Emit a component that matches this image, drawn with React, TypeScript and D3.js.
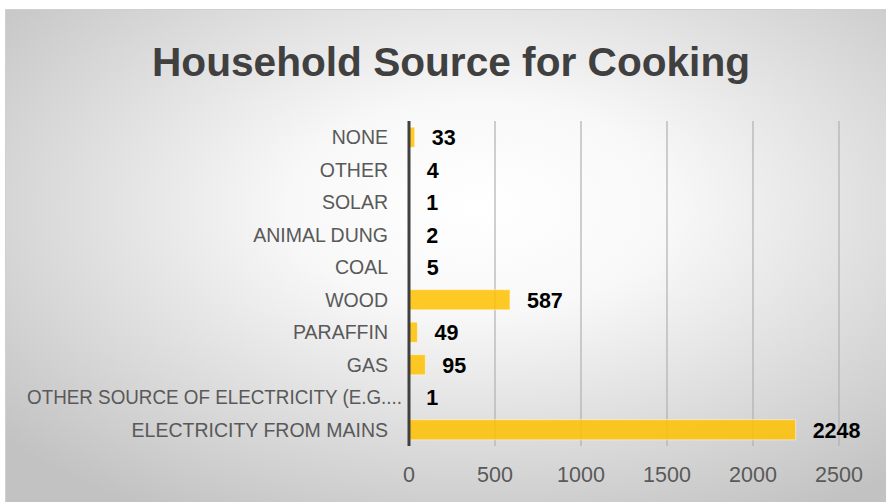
import React from "react";
import * as d3 from "d3";

const categories = [
  "NONE",
  "OTHER",
  "SOLAR",
  "ANIMAL DUNG",
  "COAL",
  "WOOD",
  "PARAFFIN",
  "GAS",
  "OTHER SOURCE OF ELECTRICITY (E.G....",
  "ELECTRICITY FROM MAINS",
];
const values = [33, 4, 1, 2, 5, 587, 49, 95, 1, 2248];
const ticks = [0, 500, 1000, 1500, 2000, 2500];
const title = "Household Source for Cooking";

export default function App() {
  const W = 886, H = 502;
  const x = d3.scaleLinear().domain([0, 2500]).range([409, 839]);
  const y = d3.scaleBand().domain(categories).range([121, 446]).paddingInner(0.38).paddingOuter(0.19);
  const font = "'Liberation Sans', 'Open Sans', sans-serif";
  return (
    <svg width={W} height={H} style={{ position: "absolute", left: 0, top: 0 }}>
      <defs>
        <radialGradient id="bg" cx="0.54" cy="0.4" r="0.72">
          <stop offset="0" stopColor="#ffffff" />
          <stop offset="0.3" stopColor="#f8f8f8" />
          <stop offset="1" stopColor="#c2c2c2" />
        </radialGradient>
      </defs>
      <rect x={0} y={0} width={W} height={H} fill="#fff" />
      <rect x={5.5} y={9.5} width={W - 5} height={H - 9} fill="url(#bg)" stroke="#d0d0d0" />
      <text x={451} y={76} textAnchor="middle" fontFamily={font} fontWeight="bold" fontSize={40} fill="#404040" textLength={598} lengthAdjust="spacingAndGlyphs">
        {title}
      </text>
      {ticks.slice(1).map((t) => (
        <line key={t} x1={x(t)} x2={x(t)} y1={121} y2={446} stroke="#b0b0b0" strokeWidth={1.2} />
      ))}
      {categories.map((c, i) => (
        <rect key={c} x={x(0)} y={y(c)!} width={x(values[i]) - x(0)} height={y.bandwidth()} fill="#ffc000" fillOpacity={0.85} stroke="#ffffff" strokeOpacity={0.5} strokeWidth={1} />
      ))}
      <line x1={x(0)} x2={x(0)} y1={121} y2={446} stroke="#404040" strokeWidth={3} />
      {categories.map((c, i) => {
        const trunc = c.endsWith("....");
        return (
          <text key={c} x={trunc ? 402 : 388} y={y(c)! + y.bandwidth() / 2} dy="0.35em" textAnchor="end" fontFamily={font} fontSize={19.5} fill="#595959"
            {...(trunc ? { textLength: 375, lengthAdjust: "spacingAndGlyphs" } : {})}>
            {c}
          </text>
        );
      })}
      {categories.map((c, i) => (
        <text key={c} x={x(values[i]) + 17} y={y(c)! + y.bandwidth() / 2} dy="0.37em" fontFamily={font} fontWeight="bold" fontSize={21.5} fill="#000">
          {values[i]}
        </text>
      ))}
      {ticks.map((t) => (
        <text key={t} x={x(t)} y={474} dy="0.35em" textAnchor="middle" fontFamily={font} fontSize={21.5} fill="#595959">
          {t}
        </text>
      ))}
    </svg>
  );
}
